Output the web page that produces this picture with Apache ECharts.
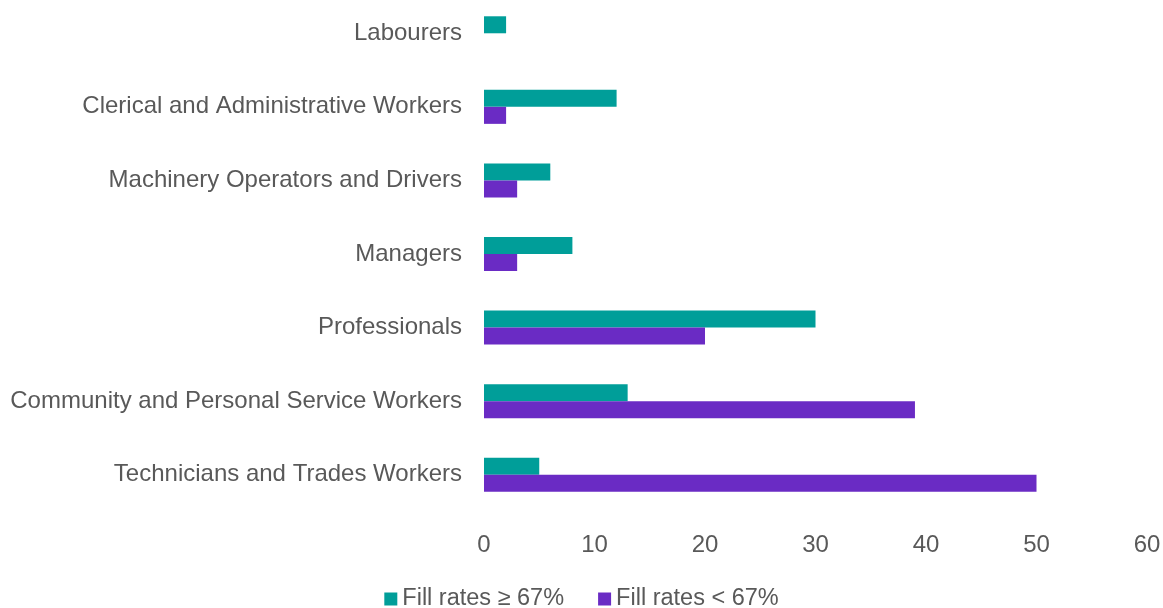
<!DOCTYPE html>
<html>
<head>
<meta charset="utf-8">
<script src="https://cdn.jsdelivr.net/npm/echarts@6/dist/echarts.min.js"></script>
<style>
html,body{margin:0;padding:0;background:#fff;}
#chart{width:1163px;height:608px;}
</style>
</head>
<body>
<div id="chart"></div>
<script>
const categories = [
  "Technicians and Trades Workers",
  "Community and Personal Service Workers",
  "Professionals",
  "Managers",
  "Machinery Operators and Drivers",
  "Clerical and Administrative Workers",
  "Labourers"
];
const seriesNames = ["Fill rates \u2265 67%", "Fill rates < 67%"];
const fillHigh = [5, 13, 30, 8, 6, 12, 2];
const fillLow = [50, 39, 20, 3, 3, 2, 0];
const xTicks = { min: 0, max: 60, interval: 10 };

const chart = echarts.init(document.getElementById('chart'));
const font = 'Liberation Sans, Arial, sans-serif';
chart.setOption({
  animation: false,
  textStyle: { fontFamily: font },
  grid: { left: 484, right: 16, top: -3.5, height: 515, containLabel: false, outerBoundsMode: 'none' },
  legend: {
    top: 587,
    left: 'center',
    padding: 0,
    itemWidth: 13,
    itemHeight: 13,
    itemGap: 34,
    icon: 'rect',
    textStyle: { fontSize: 23.5, color: '#595959', fontFamily: font },
    data: seriesNames
  },
  xAxis: {
    type: 'value',
    min: xTicks.min, max: xTicks.max, interval: xTicks.interval,
    axisLine: { show: false },
    axisTick: { show: false },
    splitLine: { show: false },
    axisLabel: { fontSize: 24, color: '#595959', margin: 22, fontFamily: font }
  },
  yAxis: {
    type: 'category',
    data: categories,
    axisLine: { show: false },
    axisTick: { show: false },
    axisLabel: { fontSize: 24, color: '#595959', margin: 22, padding: [4, 0, 0, 0], fontFamily: font }
  },
  series: [
    { name: seriesNames[0], type: 'bar', data: fillHigh, barWidth: 17, barGap: '0%',
      itemStyle: { color: '#009E99' } },
    { name: seriesNames[1], type: 'bar', data: fillLow, barWidth: 17, barGap: '0%',
      itemStyle: { color: '#6A2BC4' } }
  ]
});
</script>
</body>
</html>
